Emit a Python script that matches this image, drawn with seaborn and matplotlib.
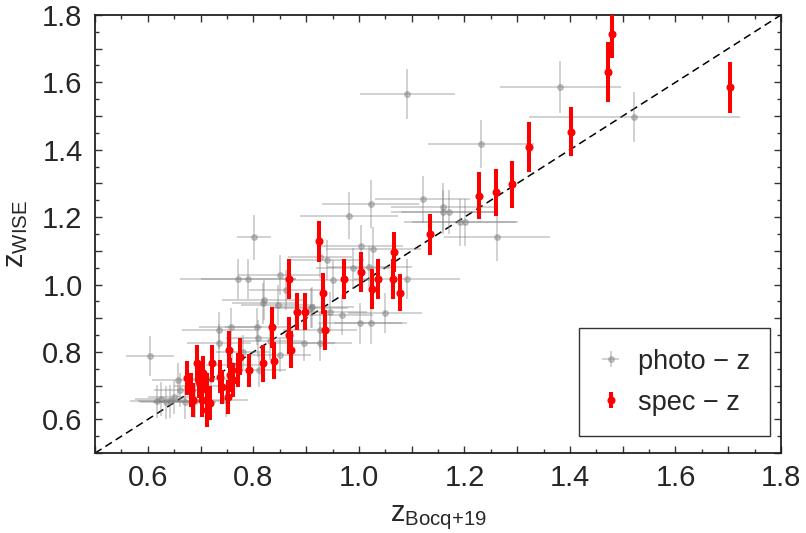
import numpy as np
import pandas as pd
import seaborn as sns
import matplotlib.pyplot as plt
from matplotlib.ticker import MultipleLocator
from matplotlib.legend_handler import HandlerErrorbar

# spec-z sample: Bocq+19 redshift, WISE redshift, WISE error
spec_x = [1.703, 1.472, 1.480, 1.402, 1.323, 1.290, 1.260, 1.227, 1.134, 1.067,
          0.925, 0.868, 0.972, 1.003, 1.036, 1.025, 1.064, 1.077, 0.931, 0.935,
          0.882, 0.897, 0.835, 0.868, 0.871, 0.819, 0.840, 0.792,
          0.675, 0.681, 0.685, 0.693, 0.696, 0.702, 0.705, 0.712, 0.718, 0.721,
          0.737, 0.740, 0.753, 0.756, 0.762, 0.770, 0.775, 0.751, 0.712]
spec_y = [1.585, 1.631, 1.743, 1.453, 1.408, 1.298, 1.274, 1.263, 1.149, 1.096,
          1.129, 1.017, 1.017, 1.038, 1.017, 0.986, 1.017, 0.976, 0.974, 0.865,
          0.920, 0.920, 0.873, 0.850, 0.806, 0.766, 0.774, 0.745,
          0.722, 0.687, 0.658, 0.766, 0.712, 0.658, 0.737, 0.687, 0.648, 0.766,
          0.727, 0.697, 0.806, 0.732, 0.717, 0.747, 0.786, 0.667, 0.628]
spec_yerr = [0.075, 0.09, 0.07, 0.073, 0.073, 0.07, 0.07, 0.07, 0.06, 0.06,
             0.061, 0.06, 0.06, 0.06, 0.06, 0.06, 0.06, 0.055, 0.06, 0.06,
             0.055, 0.055, 0.06, 0.055, 0.055, 0.055, 0.055, 0.05,
             0.05, 0.05, 0.05, 0.055, 0.05, 0.05, 0.05, 0.05, 0.05, 0.055,
             0.05, 0.05, 0.055, 0.05, 0.05, 0.05, 0.055, 0.05, 0.05]

# photo-z sample
photo_x = [1.092, 1.382, 1.522, 1.231, 1.121, 1.160, 1.160, 1.170, 1.192, 1.201,
           1.262, 0.981, 1.022, 0.801, 1.004, 1.027, 0.926, 0.940, 0.950, 0.989,
           1.020, 1.091, 0.770, 0.790, 0.851, 0.861, 0.820, 0.819, 0.847, 0.909,
           0.911, 0.945, 0.967, 1.050, 1.022, 1.002, 0.757, 0.735, 0.735, 0.806,
           0.809, 0.832, 0.895, 0.926, 0.926, 0.811, 0.604, 0.749, 0.658, 0.661,
           0.642, 0.617, 0.625, 0.635, 0.650, 0.670, 0.690, 0.700, 0.720, 0.760,
           0.780, 0.850]
photo_y = [1.565, 1.585, 1.496, 1.417, 1.253, 1.230, 1.216, 1.216, 1.185, 1.185,
           1.140, 1.204, 1.239, 1.140, 1.113, 1.106, 1.083, 1.073, 1.014, 1.048,
           1.053, 1.016, 1.017, 1.017, 1.028, 0.984, 0.954, 0.944, 0.939, 0.930,
           0.932, 0.918, 0.910, 0.915, 0.885, 0.885, 0.875, 0.865, 0.828, 0.875,
           0.841, 0.831, 0.828, 0.828, 0.865, 0.747, 0.788, 0.658, 0.717, 0.687,
           0.653, 0.653, 0.660, 0.650, 0.665, 0.650, 0.655, 0.700, 0.720, 0.760,
           0.800, 0.790]
photo_xerr = [0.09, 0.115, 0.20, 0.10, 0.09, 0.10, 0.10, 0.09, 0.106, 0.10,
              0.10, 0.093, 0.092, 0.033, 0.08, 0.09, 0.06, 0.07, 0.08, 0.07,
              0.08, 0.10, 0.11, 0.09, 0.08, 0.07, 0.08, 0.06, 0.07, 0.07,
              0.08, 0.07, 0.06, 0.07, 0.07, 0.08, 0.06, 0.07, 0.06, 0.06,
              0.06, 0.06, 0.06, 0.06, 0.07, 0.05, 0.045, 0.04, 0.05, 0.05,
              0.06, 0.05, 0.05, 0.05, 0.05, 0.06, 0.05, 0.05, 0.05, 0.05,
              0.05, 0.06]
photo_yerr = [0.075, 0.077, 0.074, 0.072, 0.07, 0.07, 0.065, 0.065, 0.07, 0.07,
              0.07, 0.07, 0.07, 0.067, 0.065, 0.065, 0.065, 0.06, 0.06, 0.06,
              0.06, 0.06, 0.06, 0.06, 0.06, 0.06, 0.06, 0.06, 0.06, 0.06,
              0.06, 0.06, 0.06, 0.06, 0.06, 0.06, 0.055, 0.055, 0.055, 0.055,
              0.055, 0.055, 0.055, 0.055, 0.055, 0.05, 0.058, 0.05, 0.05, 0.05,
              0.05, 0.05, 0.05, 0.05, 0.05, 0.05, 0.05, 0.05, 0.05, 0.05,
              0.05, 0.05]

one_to_one = [0.5, 1.8]

sns.set_style('ticks')
plt.rcParams['font.family'] = ['Liberation Sans', 'DejaVu Sans']
plt.rcParams['mathtext.default'] = 'regular'

fig = plt.figure(figsize=(8.06, 5.33), dpi=100)
ax = fig.add_axes([0.118, 0.150, 0.851, 0.822])

sns.lineplot(x=one_to_one, y=one_to_one, ax=ax, color='black',
             linestyle=(0, (5, 3)), linewidth=1.1, zorder=1)

ax.errorbar(photo_x, photo_y, xerr=photo_xerr, yerr=photo_yerr, fmt='o',
            color='gray', alpha=0.42, ms=4, elinewidth=1.2, capsize=0,
            label='photo − z', zorder=2)
ax.errorbar(spec_x, spec_y, yerr=spec_yerr, fmt='o', color='red',
            ms=4.8, elinewidth=2.9, capsize=0, label='spec − z', zorder=3)

ax.set_xlim(0.5, 1.8)
ax.set_ylim(0.5, 1.8)
ax.xaxis.set_major_locator(MultipleLocator(0.1))
ax.yaxis.set_major_locator(MultipleLocator(0.1))
ax.xaxis.set_minor_locator(MultipleLocator(0.05))
ax.yaxis.set_minor_locator(MultipleLocator(0.05))
fmt = lambda v, p: f'{v:.1f}' if round(v * 10) % 2 == 0 else ''
ax.xaxis.set_major_formatter(fmt)
ax.yaxis.set_major_formatter(fmt)
ax.tick_params(which='both', direction='in', top=True, right=True,
               labelsize=21, width=1.0, color='#333333')
ax.tick_params(which='major', length=5)
ax.tick_params(axis='x', which='major', pad=8)
ax.tick_params(axis='y', which='major', pad=9)
ax.tick_params(which='minor', length=3)
for s in ax.spines.values():
    s.set_linewidth(1.3)
    s.set_color('#222222')

ax.set_xlabel('$z_{Bocq{+}19}$', fontsize=21)
ax.set_ylabel('$z_{WISE}$', fontsize=21)
ax.xaxis.set_label_coords(0.5, -0.115)
ax.yaxis.set_label_coords(-0.095, 0.5)

leg = ax.legend(loc='lower right', bbox_to_anchor=(0.984, 0.039),
                fontsize=19.5, frameon=True, fancybox=False,
                edgecolor='black', borderaxespad=0, handlelength=0.8,
                handletextpad=0.6, borderpad=0.75, labelspacing=0.55,
                handler_map={type(ax.containers[0]): HandlerErrorbar(xerr_size=0.3, yerr_size=0.3)})
leg.get_frame().set_linewidth(1.0)

fig.savefig('out.png', dpi=100)
